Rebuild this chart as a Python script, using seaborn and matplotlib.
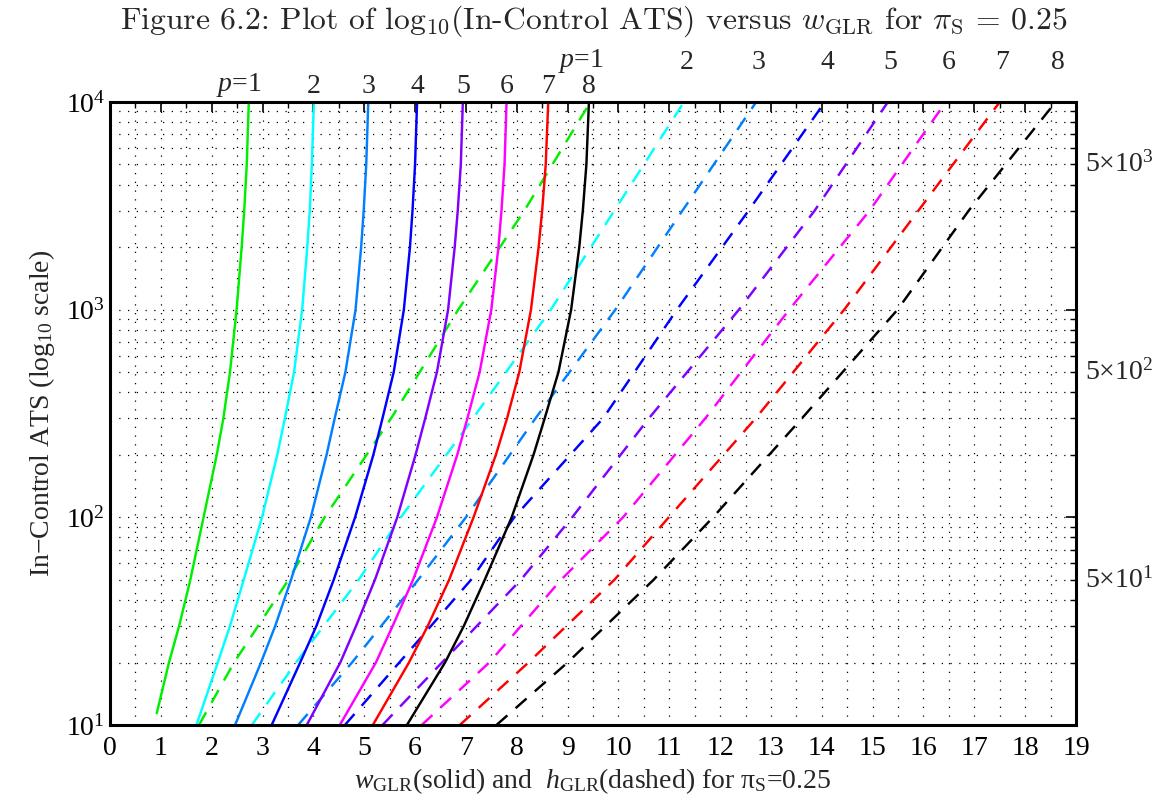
import numpy as np
import pandas as pd
import matplotlib
matplotlib.use("Agg")
import matplotlib.pyplot as plt
import matplotlib.ticker as mticker
from matplotlib.transforms import blended_transform_factory
import seaborn as sns

# ---------------- data ----------------
p_values = [1, 2, 3, 4, 5, 6, 7, 8]
line_colors = ["#00EE00", "#00FFFF", "#0080FF", "#0000FF",
               "#8000FF", "#FF00FF", "#FF0000", "#000000"]

# solid curves: w_GLR at these in-control ATS levels
ats_solid = [10, 20, 30, 50, 100, 200, 300, 500, 1000, 2000, 3000, 5000, 10000]
ats_solid_p1 = [11.4, 20, 30, 50, 100, 200, 300, 500, 1000, 2000, 3000, 5000, 10000]
w_glr_p1 = [0.92, 1.16, 1.36, 1.58, 1.84, 2.10, 2.23, 2.36, 2.49, 2.59, 2.64, 2.69, 2.73]
w_glr_p2 = [1.70, 2.12, 2.36, 2.63, 2.99, 3.29, 3.44, 3.62, 3.78, 3.88, 3.93, 3.97, 4.01]
w_glr_p3 = [2.46, 2.97, 3.25, 3.56, 3.95, 4.26, 4.42, 4.63, 4.83, 4.94, 4.99, 5.04, 5.08]
w_glr_p4 = [3.18, 3.74, 4.06, 4.40, 4.82, 5.18, 5.36, 5.58, 5.78, 5.90, 5.95, 6.00, 6.04]
w_glr_p5 = [3.87, 4.53, 4.84, 5.21, 5.65, 6.01, 6.20, 6.43, 6.65, 6.78, 6.84, 6.90, 6.94]
w_glr_p6 = [4.52, 5.23, 5.56, 5.96, 6.43, 6.83, 7.03, 7.27, 7.50, 7.64, 7.70, 7.76, 7.80]
w_glr_p7 = [5.17, 5.88, 6.25, 6.67, 7.15, 7.59, 7.81, 8.05, 8.28, 8.43, 8.50, 8.57, 8.62]
w_glr_p8 = [5.84, 6.59, 6.96, 7.37, 7.90, 8.33, 8.55, 8.82, 9.07, 9.23, 9.30, 9.37, 9.42]

# dashed lines: h_GLR at these in-control ATS levels
ats_dashed = [10, 20, 50, 100, 300, 1000, 3000, 10000]
h_glr_p1 = [1.75, 2.44, 3.51, 4.22, 5.53, 6.85, 8.15, 9.45]
h_glr_p2 = [2.79, 3.66, 4.89, 5.72, 7.14, 8.67, 9.92, 11.29]
h_glr_p3 = [3.70, 4.76, 6.06, 7.00, 8.37, 9.94, 11.26, 12.71]
h_glr_p4 = [4.62, 5.69, 7.10, 7.95, 9.70, 11.15, 12.56, 14.06]
h_glr_p5 = [5.36, 6.53, 8.08, 9.09, 10.60, 12.37, 13.86, 15.30]
h_glr_p6 = [6.13, 7.46, 8.87, 10.09, 11.71, 13.36, 14.94, 16.44]
h_glr_p7 = [6.88, 8.23, 9.92, 10.99, 12.70, 14.44, 15.90, 17.50]
h_glr_p8 = [7.60, 9.00, 10.69, 11.86, 13.61, 15.49, 16.89, 18.60]

right_labels = ["5\u00d710$^{3}$", "5\u00d710$^{2}$", "5\u00d710$^{1}$"]
right_label_values = [5000, 500, 50]

# ---------------- build long table ----------------
solid_x = [w_glr_p1, w_glr_p2, w_glr_p3, w_glr_p4,
           w_glr_p5, w_glr_p6, w_glr_p7, w_glr_p8]
dashed_x = [h_glr_p1, h_glr_p2, h_glr_p3, h_glr_p4,
            h_glr_p5, h_glr_p6, h_glr_p7, h_glr_p8]
frames = []
for p, xs in zip(p_values, solid_x):
    ys = ats_solid_p1 if p == 1 else ats_solid
    frames.append(pd.DataFrame({"x": xs, "ats": ys, "p": p, "kind": "solid"}))
for p, xs in zip(p_values, dashed_x):
    frames.append(pd.DataFrame({"x": xs, "ats": ats_dashed, "p": p, "kind": "dashed"}))
df = pd.concat(frames, ignore_index=True)

# ---------------- style ----------------
sns.set_theme(style="white")
plt.rcParams["font.family"] = ["Liberation Serif", "DejaVu Serif"]
plt.rcParams["mathtext.fontset"] = "custom"
plt.rcParams["mathtext.rm"] = "Liberation Serif"
plt.rcParams["mathtext.it"] = "Liberation Serif:italic"
plt.rcParams["mathtext.bf"] = "Liberation Serif:bold"
plt.rcParams["axes.unicode_minus"] = True

fig = plt.figure(figsize=(11.59, 8.10), dpi=100)
ax = fig.add_axes([0.0949, 0.1049, 0.8335, 0.7692])
ax.set_yscale("log")

palette = dict(zip(p_values, line_colors))
sns.lineplot(data=df, x="x", y="ats", hue="p", style="kind",
             palette=palette, dashes={"solid": "", "dashed": (6, 4.5)},
             sort=False, estimator=None, linewidth=1.75, legend=False, ax=ax)

ax.set_xlim(0, 19)
ax.set_ylim(10, 1e4)
ax.xaxis.set_major_locator(mticker.MultipleLocator(1))
ax.xaxis.set_minor_locator(mticker.MultipleLocator(0.5))
ax.yaxis.set_major_locator(mticker.LogLocator(base=10, numticks=10))
ax.yaxis.set_minor_locator(mticker.LogLocator(base=10, subs=np.arange(2, 10), numticks=20))
ax.yaxis.set_major_formatter(mticker.LogFormatterSciNotation())
ax.yaxis.set_minor_formatter(mticker.NullFormatter())

ax.grid(True, which="both", color="black", linestyle=(0, (1, 6)), linewidth=0.9)
ax.tick_params(which="both", direction="in", top=True, right=True,
               colors="black", labelsize=20)
ax.tick_params(which="major", length=7, width=1.2)
ax.tick_params(which="minor", length=4, width=1.0)
ax.tick_params(axis="x", pad=8)
for s in ax.spines.values():
    s.set_visible(True)
    s.set_color("black")
    s.set_linewidth(2.2)

ax.set_xlabel("$w_{\\mathrm{GLR}}$(solid) and  $h_{\\mathrm{GLR}}$(dashed) for \u03c0$_{\\mathrm{S}}$=0.25",
              fontsize=20, labelpad=4)
ax.set_ylabel("In\u2212Control ATS (log$_{10}$ scale)", fontsize=20, labelpad=6)

# labels above the curves
trans_top = blended_transform_factory(ax.transData, ax.transAxes)
for p, xs in zip(p_values, solid_x):
    txt = "$p$=1" if p == 1 else str(p)
    ha = "right" if p == 1 else "center"
    xoff = 0.25 if p == 1 else 0.0
    ax.text(xs[-1] + xoff, 1.004, txt, transform=trans_top, ha=ha, va="bottom", fontsize=20)
for p, xs in zip(p_values, dashed_x):
    txt = "$p$=1" if p == 1 else str(p)
    ha = "right" if p == 1 else "center"
    xoff = 0.25 if p == 1 else 0.05
    ax.text(xs[-1] + xoff, 1.043, txt, transform=trans_top, ha=ha, va="bottom", fontsize=20)

# right side labels
trans_right = blended_transform_factory(ax.transAxes, ax.transData)
for lab, v in zip(right_labels, right_label_values):
    ax.text(1.009, v, lab, transform=trans_right, ha="left", va="center", fontsize=20)

fig.text(0.512, 0.974,
         r"Figure 6.2: Plot of log$_{10}$(In-Control ATS) versus $w_{\mathrm{GLR}}$ for $\pi_{\mathrm{S}}$ = 0.25",
         ha="center", va="center", fontsize=22.8, family="cmr10", math_fontfamily="cm")

fig.savefig("out.png", dpi=100)
